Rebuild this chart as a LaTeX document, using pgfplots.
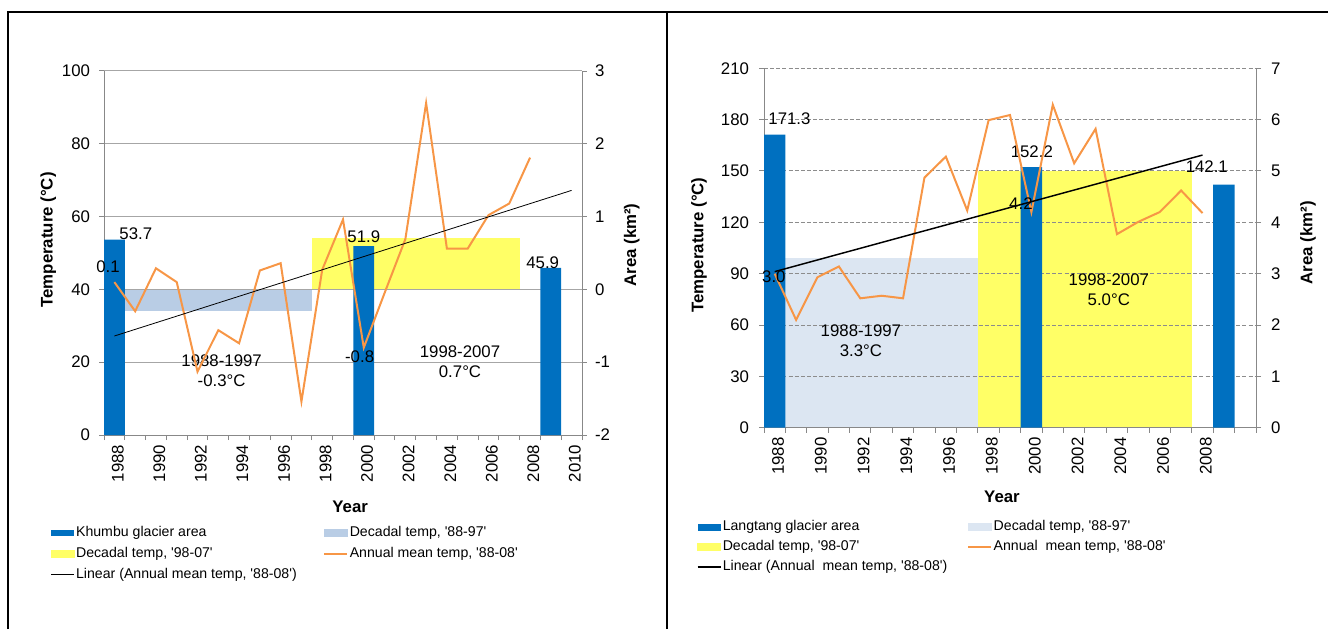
\documentclass[border=0pt]{standalone}
\usepackage{pgfplots}
\pgfplotsset{compat=1.18}
\usepackage{pgfplotstable}
\usepackage{fontspec}
\setmainfont{Liberation Sans}
\definecolor{barblue}{HTML}{0070C0}
\definecolor{lblueA}{HTML}{B9CDE5}
\definecolor{lblueB}{HTML}{DCE6F2}
\definecolor{yel}{HTML}{FFFF66}
\definecolor{orng}{HTML}{F79646}
\definecolor{gridgray}{HTML}{A6A6A6}
\definecolor{gridgrayB}{HTML}{8C8C8C}
\definecolor{axgray}{HTML}{888888}
\newcommand\lfont{\fontsize{12.6}{15.2}\selectfont}
\newcommand\sfont{\fontsize{10.6}{12.5}\selectfont}
\newcommand\q{\textquotesingle}

% Khumbu annual mean temperature (right axis, deg C)
\pgfplotstableread{
year t
1988 0.1
1989 -0.30
1990 0.29
1991 0.10
1992 -1.13
1993 -0.56
1994 -0.74
1995 0.26
1996 0.36
1997 -1.54
1998 0.27
1999 0.96
2000 -0.80
2001 -0.05
2002 0.69
2003 2.56
2004 0.56
2005 0.56
2006 1.02
2007 1.18
2008 1.81
}\khumbu

% Langtang annual mean temperature (right axis, deg C)
\pgfplotstableread{
year t
1988 3.0
1989 2.10
1990 2.93
1991 3.14
1992 2.52
1993 2.57
1994 2.52
1995 4.87
1996 5.28
1997 4.23
1998 5.99
1999 6.09
2000 4.2
2001 6.29
2002 5.15
2003 5.82
2004 3.77
2005 4.01
2006 4.20
2007 4.62
2008 4.18
}\langtang

\pgfplotsset{
  common/.style={
    anchor=south west, scale only axis,
    xmin=1987.5, xmax=2010.5,
    /pgf/number format/assume math mode=true,
    /pgf/number format/1000 sep={},
    tick label style={font=\lfont},
    label style={font=\lfont\bfseries},
    major tick length=3.75pt, minor tick length=3.75pt,
    tick align=outside,
    tick style={draw=axgray, line width=0.75pt},
    axis line style={draw=axgray, line width=0.75pt},
  },
  arealeg/.style={legend image code/.code={\fill[#1] (0pt,-2.6pt) rectangle (17.25pt,2.6pt);}},
  lineleg/.style={legend image code/.code={\draw[#1] (0pt,0pt) -- (17.25pt,0pt);}},
}

\begin{document}
\begin{tikzpicture}
\path[use as bounding box] (0,0) rectangle (996pt,471.75pt);

%================ LEFT CHART ================
% decadal temperature blocks (right axis units)
\begin{axis}[common, hide axis,
  at={(78pt,145.5pt)}, width=358.5pt, height=273pt,
  ymin=-2, ymax=3]
\addplot[fill=lblueA, draw=none] coordinates {(1987.5,0) (1997.5,0) (1997.5,-0.3) (1987.5,-0.3)};
\addplot[fill=yel, draw=none] coordinates {(1997.5,0) (2007.5,0) (2007.5,0.7) (1997.5,0.7)};
\end{axis}

\begin{axis}[common, clip=false,
  at={(78pt,145.5pt)}, width=358.5pt, height=273pt,
  ymin=0, ymax=100, ytick={0,20,...,100},
  axis lines*=left,
  xtick={1988,1990,...,2010},
  minor xtick={1987.5,1988.5,...,2010.5},
  major x tick style={draw=none},
  ymajorgrids, grid style={draw=gridgray, line width=0.75pt},
  xticklabel style={rotate=90, anchor=east, yshift=-2.5pt},
  yticklabel style={xshift=-3.25pt},
  xlabel={Year}, xlabel style={at={(axis description cs:0.515,-0.198)}, anchor=center},
  ylabel={Temperature (°C)}, ylabel style={at={(axis description cs:-0.1165,0.536)}, anchor=center},
  legend columns=2, legend cell align=left,
  legend style={at={(axis description cs:-0.1115,-0.2456)}, anchor=north west, draw=none, fill=none,
    inner sep=0pt, font=\sfont, row sep=3pt,
    /tikz/every even column/.append style={column sep=19pt},
    nodes={inner sep=1pt, text height=8pt, text depth=2.5pt}},
]
\addplot[ybar, bar width=1, bar shift=0pt, fill=barblue, draw=none, arealeg={barblue}]
  coordinates {(1988,53.7) (2000,51.9) (2009,45.9)};
\addlegendimage{arealeg={lblueA}}
\addlegendimage{arealeg={yel}}
\addlegendimage{lineleg={orng, line width=1.5pt}}
\addlegendimage{lineleg={black, line width=0.6pt}}
\legend{Khumbu glacier area, {Decadal temp, \q88-97\q}, {Decadal temp, \q98-07\q},
  {Annual mean temp, \q88-08\q}, {Linear (Annual mean temp, \q88-08\q)}}
\node[font=\lfont] at (axis cs:1989.03,55.2) {53.7};
\node[font=\lfont] at (axis cs:2000,54.5) {51.9};
\node[font=\lfont] at (axis cs:2008.61,47.4) {45.9};
\node[font=\lfont, align=center] at (axis cs:1993.16,17.66) {1988-1997\\-0.3°C};
\node[font=\lfont, align=center] at (axis cs:2004.63,20.2) {1998-2007\\0.7°C};
\end{axis}

\begin{axis}[common, clip=false,
  at={(78pt,145.5pt)}, width=358.5pt, height=273pt,
  ymin=-2, ymax=3, ytick={-2,-1,0,1,2,3}, yticklabels={-2,-1,0,1,2,3},
  axis y line*=right, axis x line=none,
  yticklabel style={xshift=2.5pt},
  ylabel={Area (km²)}, ylabel style={at={(axis description cs:1.104,0.522)}, anchor=center},
]
\addplot[orng, line width=1.5pt, mark=none] table[x=year, y=t] {\khumbu};
\addplot[black, line width=0.6pt, mark=none] coordinates {(1988,-0.64) (2010,1.36)};
\node[font=\lfont] at (axis cs:1987.69,0.31) {0.1};
\node[font=\lfont] at (axis cs:1999.8,-0.92) {-0.8};
\end{axis}

%================ RIGHT CHART ================
\begin{axis}[common, hide axis,
  at={(573pt,150.975pt)}, width=369pt, height=269.55pt,
  ymin=0, ymax=7]
\addplot[fill=lblueB, draw=none] coordinates {(1987.5,0) (1997.5,0) (1997.5,3.3) (1987.5,3.3)};
\addplot[fill=yel, draw=none] coordinates {(1997.5,0) (2007.5,0) (2007.5,5.0) (1997.5,5.0)};
\end{axis}

\begin{axis}[common, clip=false,
  at={(573pt,150.975pt)}, width=369pt, height=269.55pt,
  ymin=0, ymax=210, ytick={0,30,...,210},
  axis lines*=left,
  xtick={1988,1990,...,2008},
  minor xtick={1987.5,1988.5,...,2010.5},
  major x tick style={draw=none},
  ymajorgrids, grid style={draw=gridgrayB, line width=0.75pt, dash pattern=on 3pt off 1.6pt},
  xticklabel style={rotate=90, anchor=east, yshift=-2.5pt},
  yticklabel style={xshift=-4pt},
  xlabel={Year}, xlabel style={at={(axis description cs:0.4837,-0.193)}, anchor=center},
  ylabel={Temperature (°C)}, ylabel style={at={(axis description cs:-0.132,0.508)}, anchor=center},
  legend columns=2, legend cell align=left,
  legend style={at={(axis description cs:-0.1368,-0.2526)}, anchor=north west, draw=none, fill=none,
    inner sep=0pt, font=\sfont, row sep=2.5pt,
    /tikz/every even column/.append style={column sep=14pt},
    nodes={inner sep=1pt, text height=8pt, text depth=2.5pt}},
]
\addplot[ybar, bar width=1, bar shift=0pt, fill=barblue, draw=none, arealeg={barblue}]
  coordinates {(1988,171.3) (2000,152.2) (2009,142.1)};
\addlegendimage{arealeg={lblueB}}
\addlegendimage{arealeg={yel}}
\addlegendimage{lineleg={orng, line width=1.5pt}}
\addlegendimage{lineleg={black, line width=1.1pt}}
\legend{Langtang glacier area, {Decadal temp, \q88-97\q}, {Decadal temp, \q98-07\q},
  {Annual\ \ mean temp, \q88-08\q}, {Linear (Annual\ \ mean temp, \q88-08\q)}}
\node[font=\lfont] at (axis cs:1988.69,180.4) {171.3};
\node[font=\lfont] at (axis cs:2000.02,161.3) {152.2};
\node[font=\lfont] at (axis cs:2008.2,152.5) {142.1};
\node[font=\lfont, align=center] at (axis cs:1992.03,51.0) {1988-1997\\3.3°C};
\node[font=\lfont, align=center] at (axis cs:2003.62,80.5) {1998-2007\\5.0°C};
\end{axis}

\begin{axis}[common, clip=false,
  at={(573pt,150.975pt)}, width=369pt, height=269.55pt,
  ymin=0, ymax=7, ytick={0,1,...,7}, yticklabels={0,1,2,3,4,5,6,7},
  axis y line*=right, axis x line=none,
  yticklabel style={xshift=4pt},
  ylabel={Area (km²)}, ylabel style={at={(axis description cs:1.1057,0.515)}, anchor=center},
]
\addplot[orng, line width=1.5pt, mark=none] table[x=year, y=t] {\langtang};
\addplot[black, line width=1.1pt, mark=none] coordinates {(1988,3.04) (2008,5.31)};
\node[font=\lfont] at (axis cs:1987.96,2.94) {3.0};
\node[font=\lfont] at (axis cs:1999.51,4.37) {4.2};
\end{axis}

% frame
\draw[line width=1.3pt] (6.2pt,0pt) -- (6.2pt,462.75pt) -- (996pt,462.75pt);
\draw[line width=1.3pt] (500pt,0pt) -- (500pt,462.75pt);
\end{tikzpicture}
\end{document}
